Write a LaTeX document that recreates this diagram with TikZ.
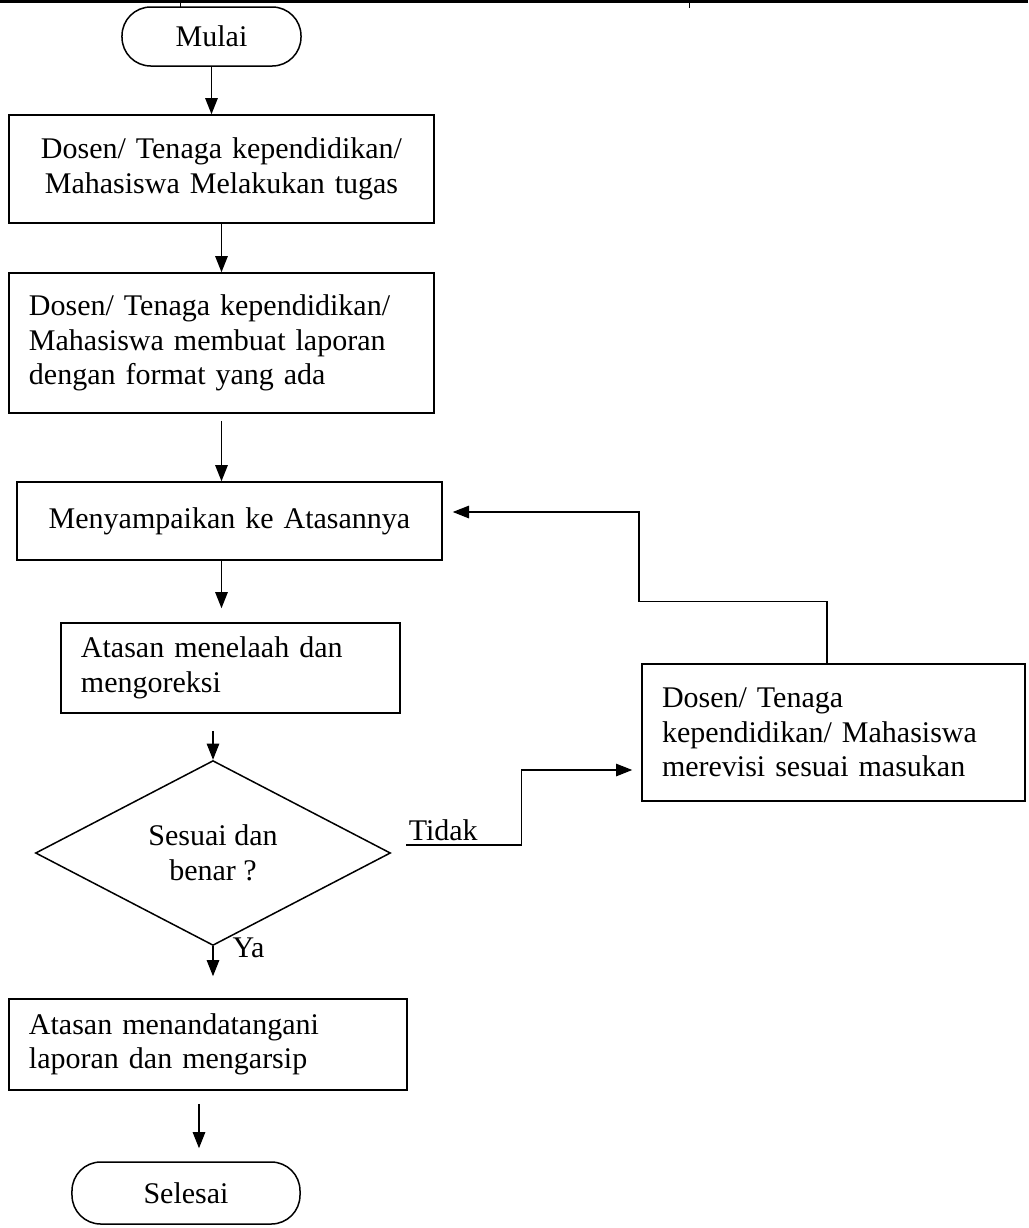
\documentclass[tikz,border=0pt]{standalone}
\usepackage{fontspec}
\setmainfont{Liberation Serif}
\usepackage{tikz}
\usetikzlibrary{arrows.meta,calc,shapes.geometric}
\tikzset{
  % Terminator (Mulai / Selesai)
  tbox/.style={rectangle,rounded corners=11.5pt,draw,line width=0.6pt,
    inner sep=0pt,align=center,font=\fontsize{12}{13.8}\selectfont},
  % Process box, text centred
  cbox/.style={rectangle,draw,line width=0.6pt,inner xsep=8pt,
    align=center,font=\fontsize{12}{13.8}\selectfont},
  % Process box, text flush left
  pbox/.style={rectangle,draw,line width=0.6pt,inner xsep=8pt,
    align=left,font=\fontsize{12}{13.8}\selectfont},
  % Decision
  dbox/.style={diamond,draw,line width=0.6pt,inner sep=0pt,
    align=center,font=\fontsize{12}{13.8}\selectfont},
  % Arrows
  arr/.style={-{Triangle[length=6.5pt,width=5pt]},line width=0.6pt},
  lbl/.style={font=\fontsize{12}{13.8}\selectfont,inner sep=0pt},
}
\begin{document}
\begin{tikzpicture}[x=0.4pt,y=-0.4pt]
  \useasboundingbox (0,0) rectangle (1028,1228);

  % Page rule
  \draw[line width=1.2pt] (0,1.5) -- (1028,1.5);
  \draw[line width=0.4pt] (180,0) -- (180,8);
  \draw[line width=0.4pt] (689,0) -- (689,8);

  % Main column
  \node[tbox,minimum width=71.6pt,minimum height=23.6pt] (mulai) at (211.5,36.5) {Mulai};
  \node[cbox,text width=154pt,minimum height=43.2pt] (tugas) at (221.5,169)
    {Dosen/ Tenaga kependidikan/\\Mahasiswa Melakukan tugas};
  \node[pbox,text width=154pt,minimum height=56pt] (laporan) at (221.5,343)
    {Dosen/ Tenaga kependidikan/\\Mahasiswa membuat laporan\\dengan format yang ada};
  \node[cbox,text width=154pt,minimum height=31.2pt] (sampaikan) at (229.5,521)
    {Menyampaikan ke Atasannya};
  \node[pbox,text width=119.6pt,minimum height=36pt] (telaah) at (230.5,668)
    {Atasan menelaah dan\\mengoreksi};
  \node[dbox,minimum width=142pt,minimum height=67.6pt] (cek) at (213,853)
    {Sesuai dan\\benar ?};
  \node[pbox,text width=143.2pt,minimum height=36.4pt] (ttd) at (208,1044.5)
    {Atasan menandatangani\\laporan dan mengarsip};
  \node[tbox,minimum width=91.2pt,minimum height=24.8pt] (selesai) at (186,1193) {Selesai};

  % Revision
  \node[pbox,text width=137.2pt,minimum height=54.8pt] (revisi) at (833.5,732.5)
    {Dosen/ Tenaga\\kependidikan/ Mahasiswa\\merevisi sesuai masukan};

  % Flow
  \draw[arr] (mulai.south) -- (mulai.south |- tugas.north);
  \draw[arr] (tugas) -- (laporan);
  \draw[arr,shorten <=2.8pt] (laporan.south) -- (laporan.south |- sampaikan.north);
  \draw[arr,shorten >=5.6pt] (laporan.south |- sampaikan.south) -- (laporan.south |- telaah.north);
  \draw[arr,shorten <=6.8pt] (cek.north |- telaah.south) -- (cek.north);
  \draw[arr,shorten >=8.8pt] (cek.south) -- (cek.south |- ttd.north);
  \draw[arr,shorten <=5.2pt,shorten >=5.2pt] ($(ttd.south)+(-9,0)$) -- ($(ttd.south |- selesai.north)+(-9,0)$);

  % Tidak branch and loop back
  \coordinate (tdk) at ($(cek.east)+(15,-8)$);
  \draw[arr,shorten >=3.6pt] (tdk) -- ++(115,0) |- ($(revisi.west)+(0,37.5)$);
  \node[lbl,anchor=base west] (tidak) at ($(tdk)+(2,-5)$) {Tidak};
  \node[lbl,anchor=base west] (ya) at ($(cek.south)+(19,11)$) {Ya};
  \draw[arr,shorten >=4pt] ($(revisi.north)+(-6.5,0)$) |- ++(-188,-62) |- ($(sampaikan.east)+(0,-9)$);
\end{tikzpicture}
\end{document}
